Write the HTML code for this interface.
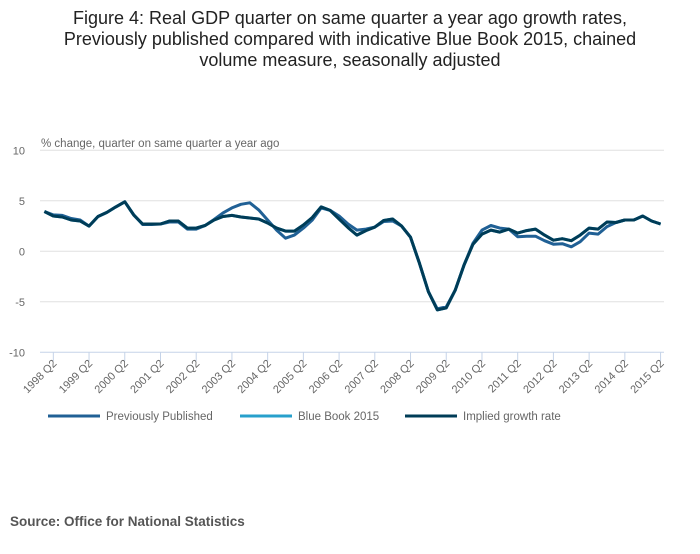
<!DOCTYPE html>
<html><head><meta charset="utf-8"><style>
body{margin:0;background:#fff;font-family:"Liberation Sans",sans-serif;}
svg text{font-family:"Liberation Sans",sans-serif;}
</style></head><body>
<svg id="chart" width="700" height="549">
<text x="350" y="24" text-anchor="middle" font-size="18" fill="#222"><tspan x="350" y="24">Figure 4: Real GDP quarter on same quarter a year ago growth rates,</tspan><tspan x="350" y="45">Previously published compared with indicative Blue Book 2015, chained</tspan><tspan x="350" y="66">volume measure, seasonally adjusted</tspan></text>
<text x="41" y="147" font-size="11.5" fill="#666">% change, quarter on same quarter a year ago</text>
<g id="grid"></g><g id="xaxis"></g><g id="lines"></g>
<g>
<line x1="48" y1="416" x2="100" y2="416" stroke="#206095" stroke-width="3"/>
<text x="106" y="420" font-size="11.5" fill="#666">Previously Published</text>
<line x1="240" y1="416" x2="292" y2="416" stroke="#27a0cc" stroke-width="3"/>
<text x="298" y="420" font-size="11.5" fill="#666">Blue Book 2015</text>
<line x1="405" y1="416" x2="457" y2="416" stroke="#003c57" stroke-width="3"/>
<text x="463" y="420" font-size="11.5" fill="#666">Implied growth rate</text>
</g>
<text x="10" y="526" font-size="13.5" font-weight="bold" fill="#555">Source: Office for National Statistics</text>
</svg>
<script>
const yTicks=[10,5,0,-5,-10];
const xLabels=["1998 Q2","1999 Q2","2000 Q2","2001 Q2","2002 Q2","2003 Q2","2004 Q2","2005 Q2","2006 Q2","2007 Q2","2008 Q2","2009 Q2","2010 Q2","2011 Q2","2012 Q2","2013 Q2","2014 Q2","2015 Q2"];
const implied=[3.94,3.5,3.4,3.1,3.0,2.5,3.45,3.85,4.4,4.9,3.6,2.7,2.7,2.7,3.0,3.0,2.3,2.3,2.55,3.1,3.45,3.55,3.4,3.3,3.2,2.8,2.3,2.0,2.0,2.6,3.35,4.4,4.05,3.2,2.35,1.6,2.05,2.4,3.05,3.2,2.5,1.4,-1.2,-4.0,-5.8,-5.6,-3.85,-1.35,0.7,1.7,2.1,1.9,2.2,1.8,2.05,2.2,1.6,1.1,1.25,1.05,1.6,2.3,2.2,2.9,2.85,3.1,3.1,3.5,3.0,2.7];
const blueBook=implied.slice();
const previous=[3.94,3.6,3.55,3.25,3.1,2.5,3.45,3.85,4.4,4.9,3.6,2.65,2.65,2.7,2.9,2.9,2.2,2.2,2.55,3.15,3.8,4.3,4.65,4.8,4.1,3.1,2.1,1.3,1.6,2.3,3.1,4.3,4.05,3.5,2.7,2.1,2.2,2.4,2.95,3.0,2.5,1.4,-1.2,-4.0,-5.7,-5.5,-3.85,-1.35,0.8,2.1,2.55,2.3,2.2,1.45,1.5,1.5,1.05,0.7,0.75,0.45,0.95,1.8,1.7,2.45,2.85,3.1,3.1,3.5,3.0,2.7];
const NS="http://www.w3.org/2000/svg";
const x0=44.4,dx=8.93,left=40,right=664;
const xs=i=>x0+dx*i;
const ys=v=>251.3-v*10.1;
function el(t,a,p){const e=document.createElementNS(NS,t);for(const k in a)e.setAttribute(k,a[k]);p.appendChild(e);return e;}
const grid=document.getElementById('grid');
yTicks.forEach(v=>{
 const l=el('line',{x1:left,x2:right,y1:ys(v),y2:ys(v),stroke:v===-10?'#c5d3e8':'#e0e0e0','stroke-width':1},grid);
 
 
 const t=el('text',{x:25,y:ys(v)+4,'text-anchor':'end','font-size':11,fill:'#666'},grid);
 t.textContent=v;
 
 
});
const xa=document.getElementById('xaxis');
xLabels.forEach((lab,k)=>{
 const x=xs(1+4*k);
 const tk=el('line',{x1:x,x2:x,y1:352,y2:361,stroke:'#c5d3e8'},xa);
 
 
 const t=el('text',{x:x+4,y:364,'text-anchor':'end','font-size':11,fill:'#666',transform:`rotate(-45 ${x+4} 364)`},xa);
 t.textContent=lab;
 
 
});
const lg=document.getElementById('lines');
[[previous,'#206095','previously-published-line'],[blueBook,'#27a0cc','blue-book-2015-line'],[implied,'#003c57','implied-growth-rate-line']].forEach(([d,c,n])=>{
 const p=el('path',{d:d.map((v,i)=>(i?'L':'M')+xs(i).toFixed(1)+' '+ys(v).toFixed(1)).join(' '),fill:'none',stroke:c,'stroke-width':3,'stroke-linejoin':'round'},lg);
 
 
});
</script>
</body></html>
